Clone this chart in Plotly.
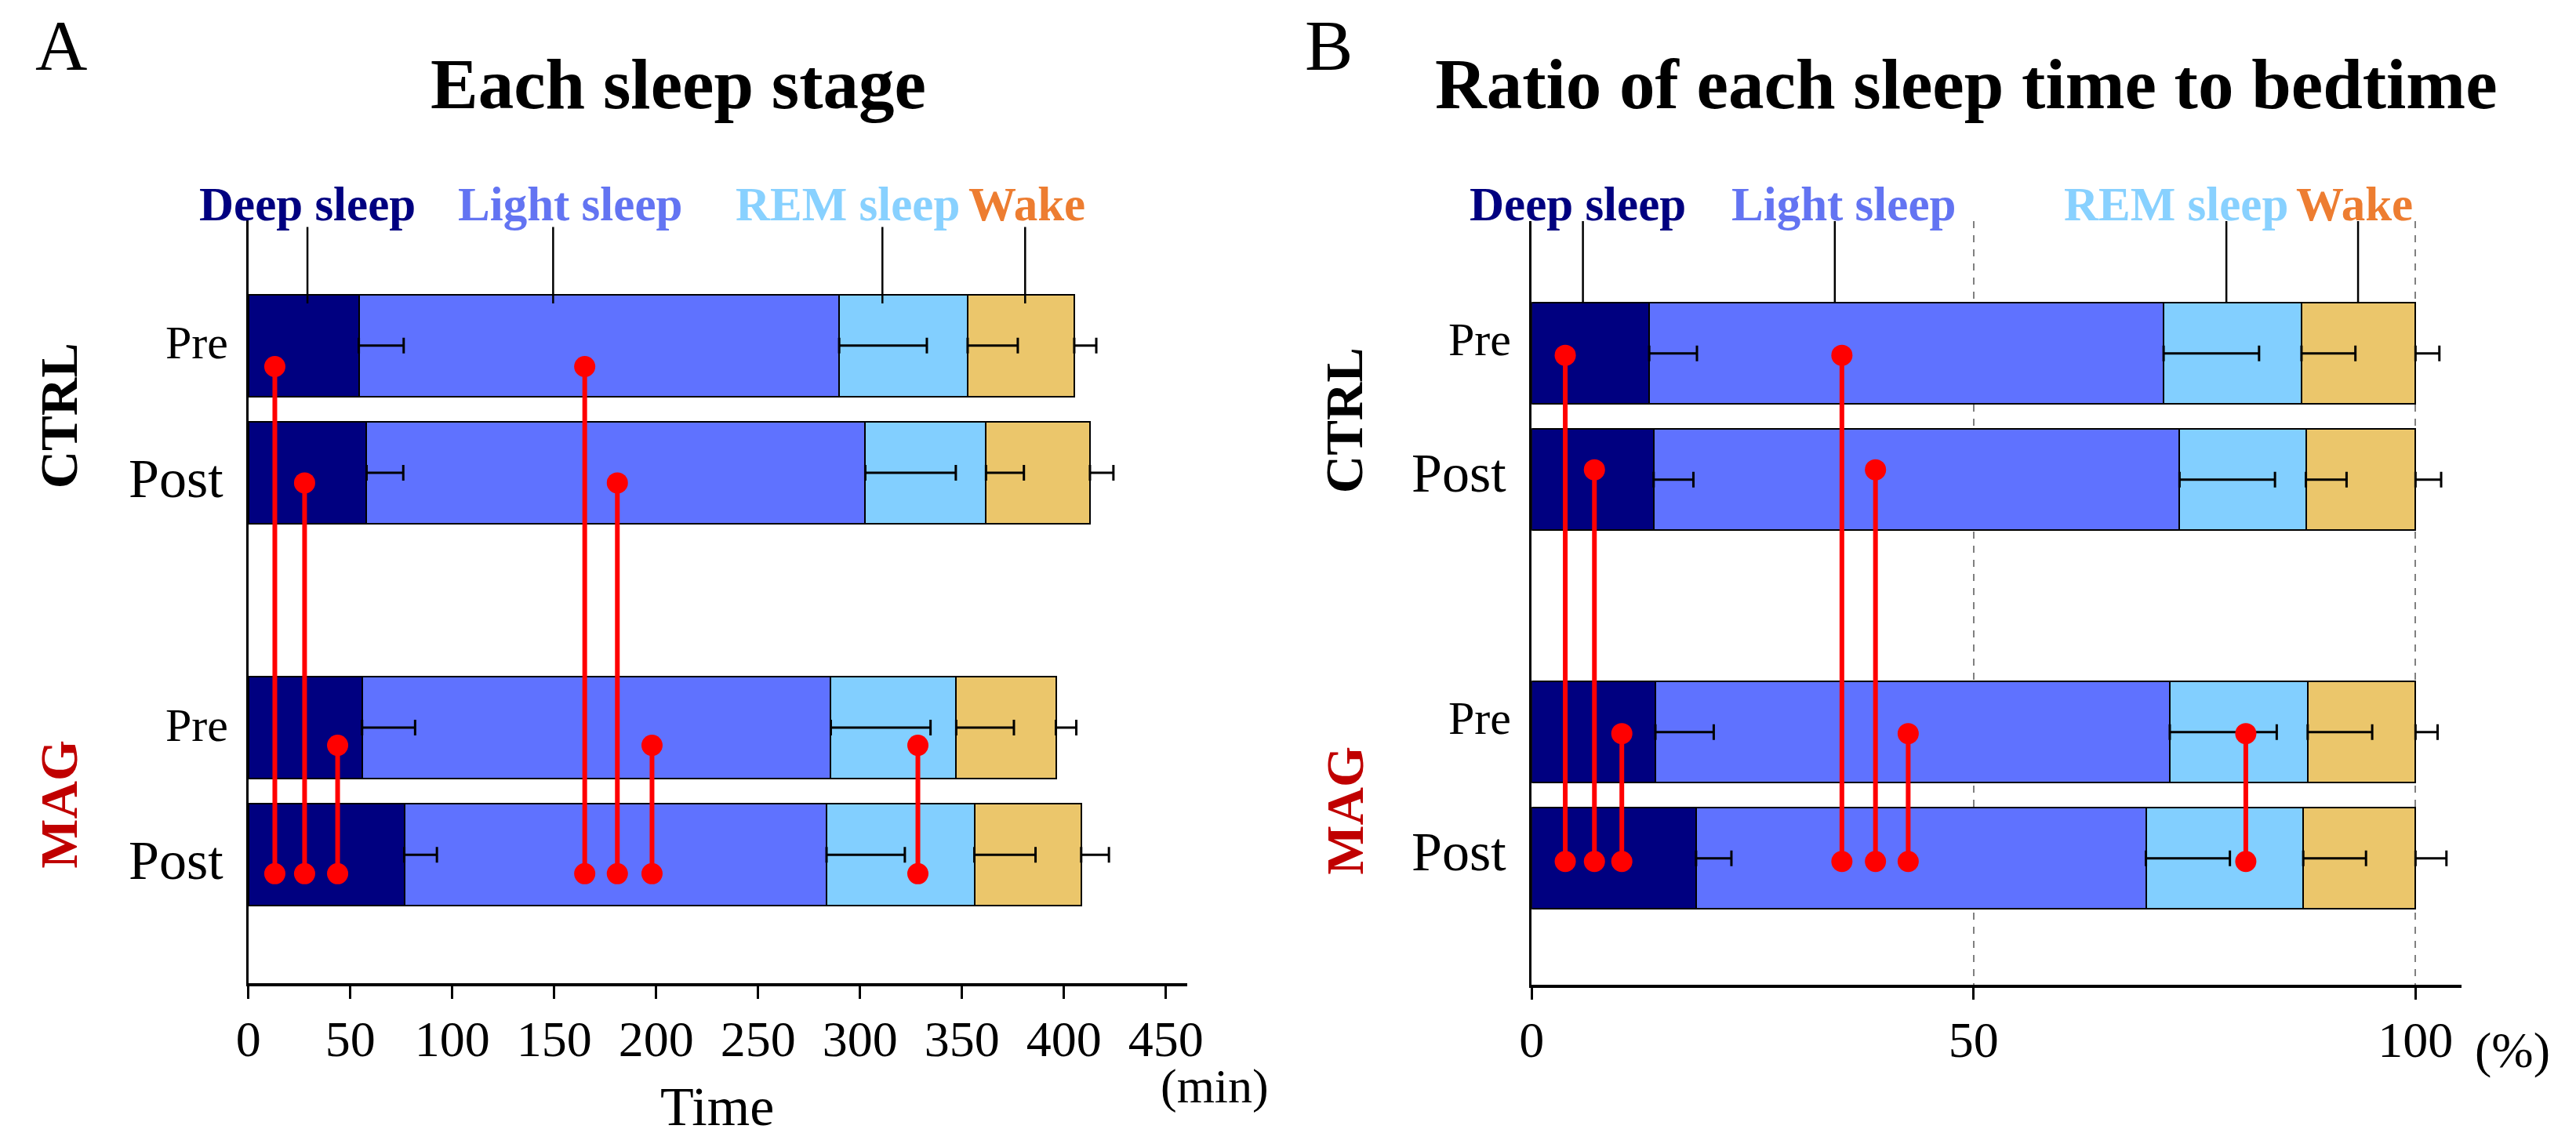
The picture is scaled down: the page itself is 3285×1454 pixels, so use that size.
import plotly.graph_objects as go

# ---------------- data ----------------
groups = ["CTRL Pre", "CTRL Post", "MAG Pre", "MAG Post"]
timepoints = ["Pre", "Post", "Pre", "Post"]
group_names = ["CTRL", "MAG"]
stages = ["Deep sleep", "Light sleep", "REM sleep", "Wake"]

# Panel A : minutes
deep_min = [54.2, 58.0, 55.8, 76.5]
light_min = [235.6, 244.6, 229.9, 207.1]
rem_min = [63.0, 59.2, 61.5, 72.5]
wake_min = [52.3, 51.0, 48.9, 52.4]
deep_min_sd = [22.0, 18.0, 26.0, 16.0]
light_min_sd = [43.0, 44.4, 48.9, 38.4]
rem_min_sd = [24.6, 18.6, 28.3, 30.0]
wake_min_sd = [10.8, 11.5, 10.0, 13.6]

# Panel B : percent of bedtime
deep_pct = [13.3, 13.8, 14.0, 18.6]
light_pct = [58.2, 59.5, 58.2, 50.9]
rem_pct = [15.6, 14.3, 15.6, 17.8]
wake_pct = [12.9, 12.4, 12.2, 12.7]
deep_pct_sd = [5.4, 4.5, 6.6, 4.0]
light_pct_sd = [10.8, 10.8, 12.1, 9.5]
rem_pct_sd = [6.1, 4.6, 7.3, 7.1]
wake_pct_sd = [2.7, 2.9, 2.5, 3.5]

# significant comparisons (from group -> to group)
sig_from = ["CTRL Pre", "CTRL Post", "MAG Pre", "CTRL Pre", "CTRL Post", "MAG Pre", "MAG Pre"]
sig_to = ["MAG Post", "MAG Post", "MAG Post", "MAG Post", "MAG Post", "MAG Post", "MAG Post"]
sig_x_min = [13.0, 27.6, 43.8, 165.0, 181.0, 198.0, 328.4]
sig_x_pct = [3.8, 7.1, 10.2, 35.1, 38.9, 42.6, 80.8]

# legend labels and their leader lines
leader_x_min = [29, 149.5, 311, 381]
label_x_min = [29, 158, 294, 382]
leader_x_pct = [5.8, 34.3, 78.6, 93.5]
label_x_pct = [5.2, 35.3, 72.9, 93.1]

x_ticks_min = [0, 50, 100, 150, 200, 250, 300, 350, 400, 450]
x_ticks_pct = [0, 50, 100]

# ---------------- styles / layout constants ----------------
FONT = "Liberation Serif"
W, H = 3285, 1454
POS = {"CTRL Pre": 0, "CTRL Post": 1, "MAG Pre": 3, "MAG Post": 4}
BAR_W = 0.8
STAGE_COLORS = ["#000080", "#5F72FF", "#82CFFF", "#EBC66B"]
LABEL_COLORS = ["#000080", "#6374F2", "#88D1FF", "#ED7D31"]
GROUP_COLORS = ["#000000", "#C00000"]
RED = "#FF0000"
DOT_OFF_A = {"CTRL Pre": 0.165, "CTRL Post": 0.079, "MAG Pre": 0.14, "MAG Post": 0.148}
DOT_OFF_B = {"CTRL Pre": 0.015, "CTRL Post": -0.078, "MAG Pre": 0.012, "MAG Post": 0.025}
LBL_OFF_A = {"Pre": -0.02, "Post": 0.045}
LBL_OFF_B = {"Pre": -0.11, "Post": -0.05}
LBL_SIZE = {"Pre": 60, "Post": 70}
LBL_SHIFT = {"Pre": -24, "Post": -30}

XDOM_A = [304 / W, 1515.1 / W]
XDOM_B = [1958.7 / W, 3158.0 / W]
YDOM_A = [(H - 1254) / H, (H - 281) / H]
YDOM_B = [(H - 1255.7) / H, (H - 282) / H]
YRANGE_A = [5.008, -0.983]
YRANGE_B = [5.0, -1.048]

fig = go.Figure()

ypos = [POS[g] for g in groups]


def add_panel(vals, sds, xa, ya, sig_x, dot_off, leader_x, leader_top, leader_bot):
    # stacked bars
    for name, v, c in zip(stages, vals, STAGE_COLORS):
        fig.add_trace(go.Bar(
            x=v, y=ypos, orientation="h", width=BAR_W, name=name,
            marker=dict(color=c, line=dict(color="black", width=2)),
            xaxis=xa, yaxis=ya, showlegend=False, hoverinfo="skip"))
    # one-sided error bars at the end of every segment
    cum = [0.0] * len(groups)
    for v, sd in zip(vals, sds):
        cum = [a + b for a, b in zip(cum, v)]
        fig.add_trace(go.Scatter(
            x=cum, y=ypos, mode="markers", marker=dict(size=1, opacity=0),
            error_x=dict(type="data", array=sd, arrayminus=[0] * len(sd),
                         symmetric=False, color="black", thickness=3, width=10),
            xaxis=xa, yaxis=ya, showlegend=False, hoverinfo="skip"))
    # leader lines from legend labels
    lx, ly = [], []
    for x in leader_x:
        lx += [x, x, None]
        ly += [leader_top, leader_bot, None]
    fig.add_trace(go.Scatter(x=lx, y=ly, mode="lines",
                             line=dict(color="black", width=2.5),
                             xaxis=xa, yaxis=ya, showlegend=False, hoverinfo="skip"))
    # significance connectors
    sx, sy = [], []
    for x, f, t in zip(sig_x, sig_from, sig_to):
        sx += [x, x, None]
        sy += [POS[f] + dot_off[f], POS[t] + dot_off[t], None]
    fig.add_trace(go.Scatter(x=sx, y=sy, mode="lines+markers",
                             line=dict(color=RED, width=6),
                             marker=dict(color=RED, size=27),
                             xaxis=xa, yaxis=ya, showlegend=False, hoverinfo="skip"))


add_panel([deep_min, light_min, rem_min, wake_min],
          [deep_min_sd, light_min_sd, rem_min_sd, wake_min_sd],
          "x", "y", sig_x_min, DOT_OFF_A, leader_x_min, -0.93, -0.33)
add_panel([deep_pct, light_pct, rem_pct, wake_pct],
          [deep_pct_sd, light_pct_sd, rem_pct_sd, wake_pct_sd],
          "x2", "y2", sig_x_pct, DOT_OFF_B, leader_x_pct, -1.048, -0.40)

ann = []
# panel letters and titles
for letter, lx in zip(["A", "B"], [62.5, 1697]):
    ann.append(dict(text=letter, x=lx / W, y=(H - 58) / H, xref="paper", yref="paper",
                    showarrow=False, xanchor="center", yanchor="middle",
                    font=dict(family=FONT, size=92, color="black")))
for title, tx in zip(["Each sleep stage", "Ratio of each sleep time to bedtime"], [858, 2519]):
    ann.append(dict(text="<b>%s</b>" % title, x=tx / W, y=(H - 107.3) / H,
                    xref="paper", yref="paper", showarrow=False,
                    xanchor="center", yanchor="middle",
                    font=dict(family=FONT, size=91, color="black")))

# legend labels
for xr, xs in [("x", label_x_min), ("x2", label_x_pct)]:
    for name, x, c in zip(stages, xs, LABEL_COLORS):
        ann.append(dict(text="<b>%s</b>" % name, x=x, y=(H - 260.6) / H,
                        xref=xr, yref="paper", showarrow=False,
                        xanchor="center", yanchor="middle",
                        font=dict(family=FONT, size=61, color=c)))

# category labels Pre / Post and group names
for xd, yr, loff, gx, gy in [(XDOM_A[0], "y", LBL_OFF_A, 60, [0.55, 3.6]),
                             (XDOM_B[0], "y2", LBL_OFF_B, 1717, [0.53, 3.62])]:
    for g, tp in zip(groups, timepoints):
        ann.append(dict(text=tp, x=xd, y=POS[g] + loff[tp], xref="paper", yref=yr,
                        showarrow=False, xanchor="right", yanchor="middle",
                        xshift=LBL_SHIFT[tp],
                        font=dict(family=FONT, size=LBL_SIZE[tp], color="black")))
    for gname, gc, yy in zip(group_names, GROUP_COLORS, gy):
        ann.append(dict(text="<b>%s</b>" % gname, x=gx / W, y=yy, xref="paper", yref=yr,
                        showarrow=False, xanchor="center", yanchor="middle",
                        textangle=-90,
                        font=dict(family=FONT, size=67, color=gc)))

# axis titles / units
ann.append(dict(text="Time", x=908 / W, y=(H - 1411) / H, xref="paper", yref="paper",
                showarrow=False, xanchor="center", yanchor="middle",
                font=dict(family=FONT, size=70, color="black")))
ann.append(dict(text="(min)", x=1478 / W, y=(H - 1385) / H, xref="paper", yref="paper",
                showarrow=False, xanchor="left", yanchor="middle",
                font=dict(family=FONT, size=62, color="black")))
ann.append(dict(text="(%)", x=3223 / W, y=(H - 1339) / H, xref="paper", yref="paper",
                showarrow=False, xanchor="center", yanchor="middle",
                font=dict(family=FONT, size=64, color="black")))

xcommon = dict(showline=True, linecolor="black", linewidth=3.5, ticks="outside",
               ticklen=16, tickwidth=2.5, tickcolor="black", zeroline=False,
               tickfont=dict(family=FONT, size=64, color="black"),
               ticklabelstandoff=-4, fixedrange=True)
ycommon = dict(showline=True, linecolor="black", linewidth=2.5, ticks="",
               showticklabels=False, showgrid=False, zeroline=False, fixedrange=True)

fig.update_layout(
    width=W, height=H, margin=dict(l=0, r=0, t=0, b=0),
    paper_bgcolor="white", plot_bgcolor="white",
    barmode="stack", showlegend=False,
    font=dict(family=FONT, color="black"),
    xaxis=dict(domain=XDOM_A, range=[0, 460.7], tickvals=x_ticks_min,
               showgrid=False, anchor="y", **xcommon),
    yaxis=dict(domain=YDOM_A, range=YRANGE_A, anchor="x", **ycommon),
    xaxis2=dict(domain=XDOM_B, range=[0, 105.24], tickvals=x_ticks_pct,
                showgrid=True, gridcolor="#808080", gridwidth=2, griddash="dash",
                anchor="y2", **xcommon),
    yaxis2=dict(domain=YDOM_B, range=YRANGE_B, anchor="x2", **ycommon),
    annotations=ann,
)

fig.write_html("out.html", include_plotlyjs=True, full_html=True,
               config={"displayModeBar": False},
               post_script="document.body.style.margin='0px';")
